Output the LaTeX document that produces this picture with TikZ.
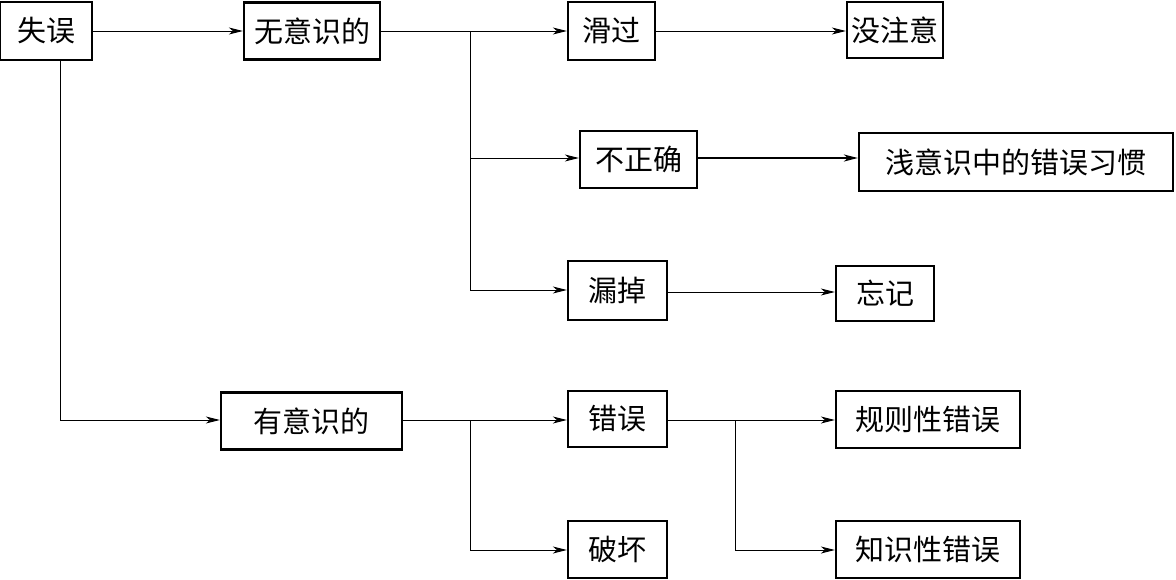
\documentclass[tikz,border=0pt]{standalone}
\usepackage{fontspec}
\newfontfamily\cjk{Noto Sans CJK SC}
\usetikzlibrary{arrows.meta}
\begin{document}
\begin{tikzpicture}[x=1pt,y=-1pt,
  box/.style={draw, line width=2.2pt, inner sep=0pt, font=\cjk\fontsize{29}{31}\selectfont},
  conn/.style={line width=1pt, -{Stealth[length=14pt,width=7pt,inset=4pt]}},
  plain/.style={line width=1pt}]
\useasboundingbox (0,0) rectangle (1176,579);
\fill[white] (0,0) rectangle (1176,579);
\node[box, minimum width=92pt, minimum height=58pt] (n1) at (46,31) {失误};
\node[box, minimum width=136pt, minimum height=57pt] (n2) at (312,31) {无意识的};
\node[box, minimum width=87pt, minimum height=58pt] (n3) at (611.5,31) {滑过};
\node[box, minimum width=96pt, minimum height=56pt] (n4) at (895,30) {没注意};
\node[box, minimum width=117pt, minimum height=57pt] (n5) at (638.5,159.5) {不正确};
\node[box, minimum width=314pt, minimum height=58pt] (n6) at (1016,162) {浅意识中的错误习惯};
\node[box, minimum width=99pt, minimum height=59pt] (n7) at (617.5,290.5) {漏掉};
\node[box, minimum width=98pt, minimum height=55pt] (n8) at (885,293.5) {忘记};
\node[box, minimum width=181pt, minimum height=57pt] (n9) at (311.5,421) {有意识的};
\node[box, minimum width=99pt, minimum height=56pt] (n10) at (617.5,419) {错误};
\node[box, minimum width=184pt, minimum height=57pt] (n11) at (928,419.5) {规则性错误};
\node[box, minimum width=99pt, minimum height=57pt] (n12) at (617.5,549.5) {破坏};
\node[box, minimum width=184pt, minimum height=57pt] (n13) at (928,549.5) {知识性错误};
\coordinate (c1) at (60,60);
\coordinate (j1) at (470,31);
\coordinate (j2) at (470,420);
\coordinate (j3) at (735,420);
\draw[conn] (n1.east |- 0,31) -- (n2.west |- 0,31);
\draw[conn] (c1) |- (n9.west |- 0,420);
\draw[conn] (n2.east |- 0,31) -- (n3.west |- 0,31);
\draw[conn] (j1) |- (n5.west |- 0,158);
\draw[conn] (j1) |- (n7.west |- 0,290);
\draw[conn] (n3.east |- 0,31) -- (n4.west |- 0,31);
\draw[conn, line width=1.8pt] (n5.east |- 0,158) -- (n6.west |- 0,158);
\draw[conn] (n7.east |- 0,292) -- (n8.west |- 0,292);
\draw[conn] (n9.east |- 0,420) -- (n10.west |- 0,420);
\draw[conn] (j2) |- (n12.west |- 0,550);
\draw[conn] (n10.east |- 0,420) -- (n11.west |- 0,420);
\draw[conn] (j3) |- (n13.west |- 0,550);
\end{tikzpicture}
\end{document}
